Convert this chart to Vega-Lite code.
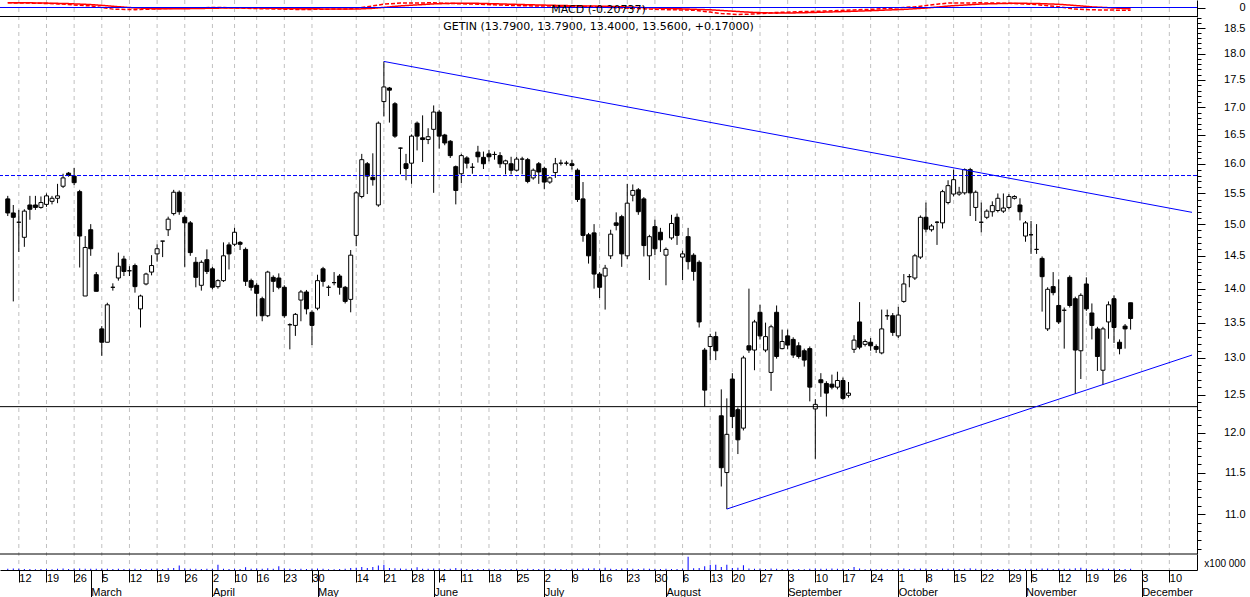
{
  "$schema": "https://vega.github.io/schema/vega-lite/v6.json",
  "width": 1197,
  "height": 570,
  "autosize": {"type": "none"},
  "padding": {"left": 0, "top": 0, "right": 53, "bottom": 27},
  "background": "#ffffff",
  "config": {
    "view": {"stroke": null},
    "axis": {"labelFont": "Liberation Sans", "labelFontSize": 11, "labelColor": "#000000", "domainColor": "#000000", "tickColor": "#000000", "labelOverlap": false, "labelFlush": false, "grid": false}
  },
  "title": {
    "text": "MACD (-0.20737)",
    "subtitle": "GETIN (13.7900, 13.7900, 13.4000, 13.5600, +0.17000)",
    "orient": "top",
    "anchor": "middle",
    "frame": "group",
    "offset": -32,
    "font": "DejaVu Sans",
    "fontSize": 11,
    "fontWeight": "normal",
    "color": "#000000",
    "subtitleFont": "DejaVu Sans",
    "subtitleFontSize": 11,
    "subtitleColor": "#000000",
    "subtitlePadding": 6
  },
  "datasets": {
    "candles": [
      {"i":-2,"o":15.41,"h":15.46,"l":15.13,"c":15.18,"v":120},
      {"i":-1,"o":15.18,"h":15.31,"l":13.81,"c":15.11,"v":150},
      {"i":0,"o":15.03,"h":15.23,"l":14.56,"c":15.03,"v":130},
      {"i":1,"o":14.79,"h":15.24,"l":14.64,"c":15.21,"v":110},
      {"i":2,"o":15.31,"h":15.46,"l":15.07,"c":15.24,"v":100},
      {"i":3,"o":15.31,"h":15.46,"l":15.23,"c":15.27,"v":90},
      {"i":4,"o":15.27,"h":15.45,"l":15.25,"c":15.35,"v":110},
      {"i":5,"o":15.32,"h":15.50,"l":15.28,"c":15.46,"v":100},
      {"i":6,"o":15.37,"h":15.46,"l":15.32,"c":15.42,"v":80},
      {"i":7,"o":15.42,"h":15.66,"l":15.34,"c":15.46,"v":120},
      {"i":8,"o":15.62,"h":15.83,"l":15.59,"c":15.76,"v":150},
      {"i":9,"o":15.84,"h":15.86,"l":15.78,"c":15.80,"v":100},
      {"i":10,"o":15.79,"h":15.93,"l":15.64,"c":15.68,"v":130},
      {"i":11,"o":15.53,"h":15.56,"l":14.32,"c":14.81,"v":160},
      {"i":12,"o":13.89,"h":14.81,"l":13.89,"c":14.63,"v":140},
      {"i":13,"o":14.91,"h":15.00,"l":14.50,"c":14.61,"v":120},
      {"i":14,"o":14.21,"h":14.25,"l":13.96,"c":13.96,"v":130},
      {"i":15,"o":13.41,"h":13.45,"l":13.03,"c":13.22,"v":120},
      {"i":16,"o":13.22,"h":13.79,"l":13.22,"c":13.76,"v":140},
      {"i":17,"o":14.02,"h":14.08,"l":13.97,"c":14.02,"v":100},
      {"i":18,"o":14.16,"h":14.55,"l":14.12,"c":14.34,"v":120},
      {"i":19,"o":14.45,"h":14.50,"l":14.19,"c":14.26,"v":110},
      {"i":20,"o":14.27,"h":14.34,"l":14.19,"c":14.27,"v":90},
      {"i":21,"o":14.35,"h":14.38,"l":13.94,"c":14.03,"v":120},
      {"i":22,"o":13.70,"h":13.91,"l":13.43,"c":13.89,"v":110},
      {"i":23,"o":14.07,"h":14.24,"l":14.05,"c":14.22,"v":100},
      {"i":24,"o":14.25,"h":14.51,"l":14.20,"c":14.35,"v":130},
      {"i":25,"o":14.53,"h":14.68,"l":14.41,"c":14.61,"v":120},
      {"i":26,"o":14.73,"h":14.73,"l":14.48,"c":14.73,"v":100},
      {"i":27,"o":14.91,"h":15.12,"l":14.81,"c":15.08,"v":180},
      {"i":28,"o":15.17,"h":15.56,"l":15.14,"c":15.52,"v":200},
      {"i":29,"o":15.52,"h":15.55,"l":15.15,"c":15.20,"v":470},
      {"i":30,"o":15.11,"h":15.14,"l":14.33,"c":15.02,"v":150},
      {"i":31,"o":15.02,"h":15.05,"l":14.50,"c":14.55,"v":130},
      {"i":32,"o":14.40,"h":14.48,"l":14.02,"c":14.17,"v":140},
      {"i":33,"o":14.05,"h":14.43,"l":13.97,"c":14.40,"v":110},
      {"i":34,"o":14.44,"h":14.60,"l":14.22,"c":14.26,"v":120},
      {"i":35,"o":14.30,"h":14.33,"l":13.99,"c":14.02,"v":100},
      {"i":36,"o":14.03,"h":14.14,"l":14.00,"c":14.12,"v":570},
      {"i":37,"o":14.12,"h":14.71,"l":14.10,"c":14.50,"v":130},
      {"i":38,"o":14.67,"h":14.71,"l":14.29,"c":14.53,"v":110},
      {"i":39,"o":14.68,"h":14.94,"l":14.65,"c":14.87,"v":120},
      {"i":40,"o":14.71,"h":14.73,"l":14.59,"c":14.68,"v":100},
      {"i":41,"o":14.60,"h":14.63,"l":14.04,"c":14.11,"v":300},
      {"i":42,"o":14.12,"h":14.15,"l":13.97,"c":14.02,"v":130},
      {"i":43,"o":14.05,"h":14.08,"l":13.59,"c":13.93,"v":150},
      {"i":44,"o":13.85,"h":13.88,"l":13.52,"c":13.60,"v":120},
      {"i":45,"o":13.60,"h":14.27,"l":13.58,"c":14.25,"v":180},
      {"i":46,"o":14.17,"h":14.20,"l":13.95,"c":14.11,"v":120},
      {"i":47,"o":14.16,"h":14.23,"l":13.99,"c":14.02,"v":400},
      {"i":48,"o":14.02,"h":14.05,"l":13.57,"c":13.60,"v":150},
      {"i":49,"o":13.47,"h":13.49,"l":13.12,"c":13.47,"v":130},
      {"i":50,"o":13.46,"h":13.64,"l":13.31,"c":13.62,"v":110},
      {"i":51,"o":13.83,"h":13.98,"l":13.52,"c":13.95,"v":120},
      {"i":52,"o":13.95,"h":13.98,"l":13.62,"c":13.70,"v":100},
      {"i":53,"o":13.65,"h":13.68,"l":13.18,"c":13.46,"v":140},
      {"i":54,"o":13.71,"h":14.21,"l":13.68,"c":14.12,"v":150},
      {"i":55,"o":14.30,"h":14.33,"l":14.03,"c":14.11,"v":120},
      {"i":56,"o":14.02,"h":14.05,"l":13.89,"c":14.02,"v":80},
      {"i":57,"o":14.09,"h":14.25,"l":14.05,"c":14.09,"v":90},
      {"i":58,"o":14.19,"h":14.22,"l":13.91,"c":14.02,"v":110},
      {"i":59,"o":14.02,"h":14.04,"l":13.78,"c":13.81,"v":120},
      {"i":60,"o":13.84,"h":14.59,"l":13.65,"c":14.51,"v":200},
      {"i":61,"o":14.82,"h":15.54,"l":14.65,"c":15.51,"v":250},
      {"i":62,"o":15.45,"h":16.17,"l":15.42,"c":16.07,"v":330},
      {"i":63,"o":16.00,"h":16.03,"l":15.49,"c":15.79,"v":200},
      {"i":64,"o":15.77,"h":16.18,"l":15.63,"c":15.73,"v":330},
      {"i":65,"o":15.31,"h":16.74,"l":15.28,"c":16.71,"v":470},
      {"i":66,"o":17.10,"h":17.85,"l":16.83,"c":17.37,"v":570},
      {"i":67,"o":17.35,"h":17.37,"l":16.72,"c":17.31,"v":200},
      {"i":68,"o":17.06,"h":17.09,"l":16.45,"c":16.48,"v":180},
      {"i":69,"o":16.27,"h":16.28,"l":15.82,"c":16.27,"v":150},
      {"i":70,"o":16.00,"h":16.17,"l":15.72,"c":15.92,"v":140},
      {"i":71,"o":16.01,"h":16.51,"l":15.66,"c":16.48,"v":170},
      {"i":72,"o":16.71,"h":16.74,"l":16.23,"c":16.48,"v":300},
      {"i":73,"o":16.45,"h":16.85,"l":16.03,"c":16.42,"v":140},
      {"i":74,"o":16.42,"h":16.62,"l":16.34,"c":16.47,"v":120},
      {"i":75,"o":16.60,"h":17.03,"l":15.51,"c":16.91,"v":160},
      {"i":76,"o":16.91,"h":16.95,"l":16.26,"c":16.48,"v":150},
      {"i":77,"o":16.50,"h":16.52,"l":16.32,"c":16.36,"v":110},
      {"i":78,"o":16.39,"h":16.41,"l":16.10,"c":16.14,"v":120},
      {"i":79,"o":15.95,"h":15.97,"l":15.32,"c":15.55,"v":200},
      {"i":80,"o":15.83,"h":16.17,"l":15.67,"c":16.14,"v":140},
      {"i":81,"o":16.10,"h":16.13,"l":15.92,"c":16.01,"v":110},
      {"i":82,"o":15.94,"h":16.01,"l":15.83,"c":15.94,"v":90},
      {"i":83,"o":16.20,"h":16.31,"l":16.02,"c":16.12,"v":100},
      {"i":84,"o":16.11,"h":16.21,"l":15.91,"c":16.00,"v":110},
      {"i":85,"o":16.17,"h":16.24,"l":16.04,"c":16.12,"v":90},
      {"i":86,"o":16.16,"h":16.21,"l":16.07,"c":16.16,"v":80},
      {"i":87,"o":16.14,"h":16.20,"l":15.93,"c":16.00,"v":100},
      {"i":88,"o":16.00,"h":16.07,"l":15.82,"c":16.05,"v":90},
      {"i":89,"o":16.00,"h":16.12,"l":15.82,"c":15.89,"v":100},
      {"i":90,"o":15.89,"h":16.12,"l":15.87,"c":16.08,"v":110},
      {"i":91,"o":16.08,"h":16.12,"l":15.82,"c":16.08,"v":90},
      {"i":92,"o":16.07,"h":16.10,"l":15.67,"c":15.70,"v":130},
      {"i":93,"o":15.76,"h":15.92,"l":15.73,"c":15.89,"v":100},
      {"i":94,"o":16.00,"h":16.03,"l":15.66,"c":15.86,"v":110},
      {"i":95,"o":15.92,"h":15.95,"l":15.57,"c":15.69,"v":120},
      {"i":96,"o":15.69,"h":15.78,"l":15.66,"c":15.76,"v":90},
      {"i":97,"o":15.85,"h":16.10,"l":15.76,"c":16.00,"v":140},
      {"i":98,"o":16.01,"h":16.07,"l":15.97,"c":16.01,"v":100},
      {"i":99,"o":16.01,"h":16.05,"l":15.97,"c":16.01,"v":80},
      {"i":100,"o":16.00,"h":16.07,"l":15.90,"c":15.97,"v":100},
      {"i":101,"o":15.89,"h":15.92,"l":15.36,"c":15.40,"v":130},
      {"i":102,"o":15.41,"h":15.69,"l":14.72,"c":14.82,"v":160},
      {"i":103,"o":14.83,"h":14.86,"l":14.38,"c":14.50,"v":150},
      {"i":104,"o":14.86,"h":15.00,"l":14.00,"c":14.22,"v":180},
      {"i":105,"o":14.22,"h":14.25,"l":13.86,"c":14.02,"v":140},
      {"i":106,"o":14.19,"h":14.36,"l":13.69,"c":14.31,"v":230},
      {"i":107,"o":14.50,"h":14.91,"l":14.45,"c":14.84,"v":130},
      {"i":108,"o":15.02,"h":15.19,"l":14.90,"c":14.98,"v":110},
      {"i":109,"o":15.12,"h":15.15,"l":14.33,"c":14.53,"v":150},
      {"i":110,"o":14.50,"h":15.66,"l":14.45,"c":15.34,"v":180},
      {"i":111,"o":15.47,"h":15.65,"l":15.37,"c":15.55,"v":120},
      {"i":112,"o":15.56,"h":15.59,"l":15.15,"c":15.20,"v":110},
      {"i":113,"o":15.41,"h":15.44,"l":14.49,"c":14.66,"v":150},
      {"i":114,"o":14.50,"h":14.83,"l":14.13,"c":14.80,"v":130},
      {"i":115,"o":14.96,"h":15.07,"l":14.51,"c":14.61,"v":110},
      {"i":116,"o":14.87,"h":14.94,"l":14.56,"c":14.75,"v":100},
      {"i":117,"o":14.51,"h":14.63,"l":14.05,"c":14.60,"v":120},
      {"i":118,"o":14.78,"h":15.15,"l":14.75,"c":15.01,"v":110},
      {"i":119,"o":15.11,"h":15.17,"l":14.67,"c":14.82,"v":100},
      {"i":120,"o":14.48,"h":14.58,"l":14.13,"c":14.53,"v":130},
      {"i":121,"o":14.80,"h":14.94,"l":14.29,"c":14.41,"v":1400},
      {"i":122,"o":14.51,"h":14.54,"l":14.12,"c":14.26,"v":180},
      {"i":123,"o":14.40,"h":14.43,"l":13.43,"c":13.51,"v":200},
      {"i":124,"o":13.11,"h":13.14,"l":12.34,"c":12.56,"v":400},
      {"i":125,"o":13.16,"h":13.34,"l":12.97,"c":13.30,"v":570},
      {"i":126,"o":13.30,"h":13.37,"l":12.97,"c":13.10,"v":570},
      {"i":127,"o":12.22,"h":12.57,"l":11.33,"c":11.56,"v":330},
      {"i":128,"o":11.50,"h":12.45,"l":11.06,"c":11.98,"v":570},
      {"i":129,"o":12.71,"h":12.79,"l":12.06,"c":12.21,"v":200},
      {"i":130,"o":12.30,"h":12.33,"l":11.73,"c":11.91,"v":250},
      {"i":131,"o":12.06,"h":13.03,"l":12.03,"c":13.00,"v":500},
      {"i":132,"o":13.17,"h":14.00,"l":13.07,"c":13.11,"v":160},
      {"i":133,"o":13.11,"h":13.54,"l":12.83,"c":13.51,"v":140},
      {"i":134,"o":13.65,"h":13.76,"l":13.26,"c":13.31,"v":130},
      {"i":135,"o":13.11,"h":13.50,"l":13.08,"c":13.30,"v":110},
      {"i":136,"o":12.80,"h":13.47,"l":12.55,"c":13.44,"v":170},
      {"i":137,"o":13.65,"h":13.75,"l":12.99,"c":13.02,"v":140},
      {"i":138,"o":13.13,"h":13.40,"l":13.12,"c":13.23,"v":100},
      {"i":139,"o":13.31,"h":13.40,"l":13.12,"c":13.18,"v":110},
      {"i":140,"o":13.26,"h":13.29,"l":13.00,"c":13.04,"v":90},
      {"i":141,"o":13.17,"h":13.22,"l":12.99,"c":13.02,"v":100},
      {"i":142,"o":13.10,"h":13.13,"l":12.88,"c":12.97,"v":90},
      {"i":143,"o":13.13,"h":13.16,"l":12.41,"c":12.60,"v":130},
      {"i":144,"o":12.31,"h":12.44,"l":11.67,"c":12.37,"v":150},
      {"i":145,"o":12.70,"h":12.79,"l":12.47,"c":12.66,"v":140},
      {"i":146,"o":12.65,"h":12.68,"l":12.21,"c":12.52,"v":120},
      {"i":147,"o":12.64,"h":12.77,"l":12.57,"c":12.60,"v":170},
      {"i":148,"o":12.60,"h":12.81,"l":12.57,"c":12.69,"v":120},
      {"i":149,"o":12.69,"h":12.73,"l":12.43,"c":12.45,"v":110},
      {"i":150,"o":12.49,"h":12.67,"l":12.46,"c":12.52,"v":100},
      {"i":151,"o":13.12,"h":13.32,"l":13.07,"c":13.25,"v":330},
      {"i":152,"o":13.51,"h":13.80,"l":13.12,"c":13.15,"v":150},
      {"i":153,"o":13.19,"h":13.26,"l":13.16,"c":13.23,"v":90},
      {"i":154,"o":13.22,"h":13.28,"l":13.10,"c":13.17,"v":100},
      {"i":155,"o":13.16,"h":13.19,"l":13.07,"c":13.12,"v":90},
      {"i":156,"o":13.07,"h":13.69,"l":13.05,"c":13.41,"v":130},
      {"i":157,"o":13.60,"h":13.69,"l":13.54,"c":13.60,"v":100},
      {"i":158,"o":13.60,"h":13.64,"l":13.31,"c":13.36,"v":110},
      {"i":159,"o":13.31,"h":13.73,"l":13.28,"c":13.61,"v":120},
      {"i":160,"o":13.81,"h":14.22,"l":13.79,"c":14.07,"v":150},
      {"i":161,"o":14.18,"h":14.22,"l":14.02,"c":14.18,"v":100},
      {"i":162,"o":14.16,"h":14.53,"l":14.13,"c":14.50,"v":130},
      {"i":163,"o":14.48,"h":15.14,"l":14.45,"c":15.11,"v":160},
      {"i":164,"o":15.11,"h":15.35,"l":14.87,"c":14.92,"v":140},
      {"i":165,"o":14.91,"h":15.00,"l":14.88,"c":14.97,"v":100},
      {"i":166,"o":15.03,"h":15.05,"l":14.67,"c":15.03,"v":110},
      {"i":167,"o":15.02,"h":15.56,"l":14.93,"c":15.53,"v":150},
      {"i":168,"o":15.35,"h":15.72,"l":15.32,"c":15.63,"v":140},
      {"i":169,"o":15.49,"h":15.90,"l":15.45,"c":15.73,"v":160},
      {"i":170,"o":15.49,"h":15.61,"l":15.46,"c":15.52,"v":110},
      {"i":171,"o":15.51,"h":15.92,"l":15.48,"c":15.90,"v":140},
      {"i":172,"o":15.90,"h":15.93,"l":15.13,"c":15.51,"v":180},
      {"i":173,"o":15.27,"h":15.55,"l":15.05,"c":15.52,"v":120},
      {"i":174,"o":15.03,"h":15.35,"l":14.87,"c":15.03,"v":110},
      {"i":175,"o":15.11,"h":15.24,"l":15.08,"c":15.21,"v":90},
      {"i":176,"o":15.20,"h":15.37,"l":15.12,"c":15.30,"v":100},
      {"i":177,"o":15.22,"h":15.50,"l":15.19,"c":15.42,"v":110},
      {"i":178,"o":15.21,"h":15.50,"l":15.18,"c":15.26,"v":90},
      {"i":179,"o":15.27,"h":15.49,"l":15.24,"c":15.45,"v":100},
      {"i":180,"o":15.42,"h":15.47,"l":15.40,"c":15.45,"v":80},
      {"i":181,"o":15.31,"h":15.42,"l":15.06,"c":15.20,"v":110},
      {"i":182,"o":14.81,"h":15.05,"l":14.72,"c":15.02,"v":130},
      {"i":183,"o":14.83,"h":15.05,"l":14.53,"c":14.83,"v":110},
      {"i":184,"o":14.60,"h":15.00,"l":14.53,"c":14.60,"v":120},
      {"i":185,"o":14.46,"h":14.49,"l":13.66,"c":14.18,"v":150},
      {"i":186,"o":13.41,"h":14.02,"l":13.38,"c":13.99,"v":160},
      {"i":187,"o":14.03,"h":14.25,"l":13.90,"c":13.94,"v":110},
      {"i":188,"o":13.75,"h":14.14,"l":13.48,"c":13.51,"v":130},
      {"i":189,"o":13.68,"h":13.72,"l":13.13,"c":13.68,"v":120},
      {"i":190,"o":14.17,"h":14.20,"l":13.72,"c":13.75,"v":140},
      {"i":191,"o":13.85,"h":13.88,"l":12.51,"c":13.11,"v":180},
      {"i":192,"o":13.10,"h":13.93,"l":12.71,"c":13.90,"v":230},
      {"i":193,"o":14.07,"h":14.17,"l":13.67,"c":13.70,"v":130},
      {"i":194,"o":13.64,"h":13.78,"l":13.26,"c":13.46,"v":110},
      {"i":195,"o":13.41,"h":13.44,"l":12.82,"c":13.02,"v":140},
      {"i":196,"o":12.83,"h":13.44,"l":12.63,"c":13.41,"v":150},
      {"i":197,"o":13.51,"h":13.81,"l":13.27,"c":13.76,"v":120},
      {"i":198,"o":13.85,"h":13.90,"l":13.21,"c":13.43,"v":130},
      {"i":199,"o":13.22,"h":13.26,"l":13.05,"c":13.13,"v":100},
      {"i":200,"o":13.45,"h":13.48,"l":13.13,"c":13.41,"v":110},
      {"i":201,"o":13.79,"h":13.79,"l":13.40,"c":13.56,"v":120}
    ],
    "macd": [
      {"i":-2,"m":0.35,"s":0.36},{"i":2,"m":0.33,"s":0.35},{"i":5,"m":0.30,"s":0.33},{"i":7,"m":0.27,"s":0.31},
      {"i":9,"m":0.23,"s":0.29},{"i":10,"m":0.18,"s":0.27},{"i":13,"m":0.12,"s":0.22},{"i":15,"m":0.0,"s":0.16},
      {"i":17,"m":-0.12,"s":0.09},{"i":21,"m":-0.16,"s":-0.03},{"i":25,"m":-0.10,"s":-0.09},{"i":30,"m":-0.02,"s":-0.09},
      {"i":37,"m":0.0,"s":-0.04},{"i":43,"m":-0.08,"s":-0.04},{"i":51,"m":-0.15,"s":-0.09},{"i":60,"m":-0.10,"s":-0.12},
      {"i":62,"m":0.0,"s":-0.10},{"i":64,"m":0.12,"s":-0.06},{"i":66,"m":0.25,"s":0.01},{"i":69,"m":0.33,"s":0.12},
      {"i":75,"m":0.35,"s":0.27},{"i":78,"m":0.30,"s":0.31},{"i":83,"m":0.25,"s":0.31},{"i":86,"m":0.20,"s":0.28},
      {"i":91,"m":0.13,"s":0.22},{"i":98,"m":0.10,"s":0.15},{"i":105,"m":0.05,"s":0.10},{"i":110,"m":-0.05,"s":0.04},
      {"i":116,"m":-0.15,"s":-0.05},{"i":122,"m":-0.20,"s":-0.13},{"i":125,"m":-0.34,"s":-0.17},{"i":127,"m":-0.45,"s":-0.22},
      {"i":130,"m":-0.52,"s":-0.30},{"i":133,"m":-0.48,"s":-0.37},{"i":137,"m":-0.37,"s":-0.42},{"i":142,"m":-0.30,"s":-0.39},
      {"i":146,"m":-0.26,"s":-0.34},{"i":151,"m":-0.18,"s":-0.28},{"i":155,"m":-0.12,"s":-0.22},{"i":160,"m":0.0,"s":-0.14},
      {"i":162,"m":0.05,"s":-0.09},{"i":164,"m":0.15,"s":-0.04},{"i":166,"m":0.25,"s":0.03},{"i":168,"m":0.33,"s":0.11},
      {"i":174,"m":0.35,"s":0.26},{"i":180,"m":0.30,"s":0.32},{"i":184,"m":0.22,"s":0.30},{"i":188,"m":0.05,"s":0.24},
      {"i":191,"m":-0.12,"s":0.15},{"i":194,"m":-0.17,"s":0.05},{"i":201,"m":-0.21,"s":-0.10}
    ],
    "trend": [
      {"name":"down","i":66,"p":17.85},{"name":"down","i":212.1,"p":15.19},
      {"name":"up","i":128,"p":11.06},{"name":"up","i":212.1,"p":13.04}
    ],
    "levels": [
      {"kind":"resistance","level":15.8},
      {"kind":"support","level":12.34}
    ],
    "weeks": [
      {"i":0},{"i":5},{"i":10},{"i":15},{"i":20},{"i":25},{"i":30},{"i":35},{"i":39},{"i":43},{"i":48},{"i":53},
      {"i":61},{"i":66},{"i":71},{"i":76},{"i":80},{"i":85},{"i":90},{"i":95},{"i":100},{"i":105},{"i":110},{"i":115},
      {"i":120},{"i":125},{"i":129},{"i":134},{"i":139},{"i":144},{"i":149},{"i":154},{"i":159},{"i":164},{"i":169},
      {"i":174},{"i":179},{"i":183},{"i":188},{"i":193},{"i":198},{"i":203},{"i":208}
    ]
  },
  "layer": [
    {
      "layer": [
        {
          "data": {"name": "weeks"},
          "mark": {"type": "rule", "color": "#c0c0c0", "strokeWidth": 1, "strokeDash": [4, 4]},
          "encoding": {
            "x": {"field": "i", "type": "quantitative",
              "scale": {"domain": [-2.5, 212.1], "nice": false, "zero": false},
              "axis": null}
          }
        },
        {
          "data": {"name": "candles"},
          "mark": {"type": "rule", "color": "#000000", "strokeWidth": 1},
          "encoding": {
            "x": {"field": "i", "type": "quantitative", "axis": null},
            "y": {"field": "l", "type": "quantitative",
              "scale": {"type": "log", "domain": [10.541, 18.719], "range": [554, 17], "nice": false},
              "axis": {"orient": "right", "title": null, "values": [11,11.5,12,12.5,13,13.5,14,14.5,15,15.5,16,16.5,17,17.5,18,18.5], "format": ".1f",
                "labelOverlap": false, "labelFlush": false,
                "tickSize": 8, "labelAlign": "right", "labelPadding": 40, "labelBaseline": "middle", "domain": true}},
            "y2": {"field": "h"}
          }
        },
        {
          "data": {"name": "candles"},
          "mark": {"type": "bar", "size": 4, "stroke": "#000000", "strokeWidth": 1},
          "encoding": {
            "x": {"field": "i", "type": "quantitative", "axis": null},
            "y": {"field": "o", "type": "quantitative", "axis": null},
            "y2": {"field": "c"},
            "fill": {"condition": {"test": "datum.c < datum.o", "value": "#000000"}, "value": "#ffffff"}
          }
        },
        {
          "data": {"name": "levels"},
          "mark": {"type": "rule", "strokeWidth": 1},
          "encoding": {
            "y": {"field": "level", "type": "quantitative", "axis": null},
            "color": {"field": "kind", "type": "nominal", "scale": {"domain": ["resistance", "support"], "range": ["#0000ff", "#000000"]}, "legend": null},
            "strokeDash": {"field": "kind", "type": "nominal", "scale": {"domain": ["resistance", "support"], "range": [[4, 2], [1, 0]]}, "legend": null}
          }
        },
        {
          "data": {"name": "trend"},
          "mark": {"type": "line", "color": "#0000ff", "strokeWidth": 1},
          "encoding": {
            "x": {"field": "i", "type": "quantitative", "axis": null},
            "y": {"field": "p", "type": "quantitative",
              "axis": {"orient": "right", "title": null, "labels": false, "domain": false, "tickSize": 4,
                "values": [10.6,10.7,10.8,10.9,11,11.1,11.2,11.3,11.4,11.5,11.6,11.7,11.8,11.9,12,12.1,12.2,12.3,12.4,12.5,12.6,12.7,12.8,12.9,13,13.1,13.2,13.3,13.4,13.5,13.6,13.7,13.8,13.9,14,14.1,14.2,14.3,14.4,14.5,14.6,14.7,14.8,14.9,15,15.1,15.2,15.3,15.4,15.5,15.6,15.7,15.8,15.9,16,16.1,16.2,16.3,16.4,16.5,16.6,16.7,16.8,16.9,17,17.1,17.2,17.3,17.4,17.5,17.6,17.7,17.8,17.9,18,18.1,18.2,18.3,18.4,18.5,18.6,18.7]}},
            "detail": {"field": "name"}
          }
        },
        {
          "data": {"values": [{}]},
          "mark": {"type": "rule", "color": "#000000", "strokeWidth": 1},
          "encoding": {"y": {"datum": 10.541, "type": "quantitative", "axis": null}}
        }
      ],
      "resolve": {"axis": {"y": "independent"}}
    },
    {
      "layer": [
        {
          "data": {"name": "macd"},
          "transform": [{"fold": ["m", "s"], "as": ["series", "val"]}],
          "mark": {"type": "line", "color": "#ff0000", "strokeWidth": 1.5},
          "encoding": {
            "x": {"field": "i", "type": "quantitative",
              "axis": {"orient": "bottom", "title": null, "values": [-7,13,35,54,75,95,117,139,159,182,203],
                "labelExpr": "['February','March','April','May','June','July','August','September','October','November','December'][indexof([-7,13,35,54,75,95,117,139,159,182,203], datum.value)]",
                "labelOverlap": false, "labelFlush": false, "labelBound": false,
                "domain": false, "ticks": true, "tickSize": 27, "labelAlign": "left", "labelBaseline": "top", "labelPadding": -11, "labelDx": 2, "grid": false}},
            "y": {"field": "val", "type": "quantitative",
              "scale": {"domain": [-0.67, 0.56], "range": [16.5, 0], "nice": false, "zero": false},
              "axis": {"orient": "right", "title": null, "values": [0], "format": ".0f", "tickSize": 8, "labelAlign": "right", "labelPadding": 40, "labelBaseline": "middle", "domain": true, "labelOverlap": false, "labelFlush": false}},
            "detail": {"field": "series"},
            "strokeDash": {"field": "series", "type": "nominal", "scale": {"domain": ["m", "s"], "range": [[1, 0], [3, 3]]}, "legend": null}
          }
        },
        {
          "data": {"values": [{}]},
          "mark": {"type": "rule", "color": "#0000ff", "strokeWidth": 1},
          "encoding": {"y": {"datum": 0, "type": "quantitative"}}
        },
        {
          "data": {"values": [{}]},
          "mark": {"type": "rule", "color": "#000000", "strokeWidth": 1},
          "encoding": {"y": {"datum": -0.67, "type": "quantitative"}}
        }
      ]
    },
    {
      "data": {"name": "candles"},
      "mark": {"type": "bar", "size": 1, "color": "#0000ff"},
      "encoding": {
        "x": {"field": "i", "type": "quantitative",
          "axis": {"orient": "bottom", "title": null,
            "values": [0,5,10,15,20,25,30,35,39,43,48,53,61,66,71,76,80,85,90,95,100,105,110,115,120,125,129,134,139,144,149,154,159,164,169,174,179,183,188,193,198,203,208],
            "labelExpr": "['12','19','26','5','12','19','26','2','10','16','23','30','14','21','28','4','11','18','25','2','9','16','23','30','6','13','20','27','3','10','17','24','1','8','15','22','29','5','12','19','26','3','10'][indexof([0,5,10,15,20,25,30,35,39,43,48,53,61,66,71,76,80,85,90,95,100,105,110,115,120,125,129,134,139,144,149,154,159,164,169,174,179,183,188,193,198,203,208], datum.value)]",
            "labelOverlap": false, "labelFlush": false, "labelBound": false,
            "domain": true, "ticks": true, "tickSize": 12, "labelAlign": "left", "labelBaseline": "top", "labelPadding": -10, "labelDx": 2,
            "grid": false}},
        "y": {"field": "v", "type": "quantitative",
          "scale": {"domain": [0, 1700], "range": [570, 554], "nice": false},
          "axis": {"orient": "right", "title": null, "values": [700], "labelExpr": "'x100 000'", "ticks": false, "labelAlign": "right", "labelPadding": 48, "labelFontSize": 10, "domain": true, "labelOverlap": false, "labelFlush": false}}
      }
    }
  ],
  "resolve": {"scale": {"y": "independent"}, "axis": {"x": "independent", "y": "independent"}}
}
